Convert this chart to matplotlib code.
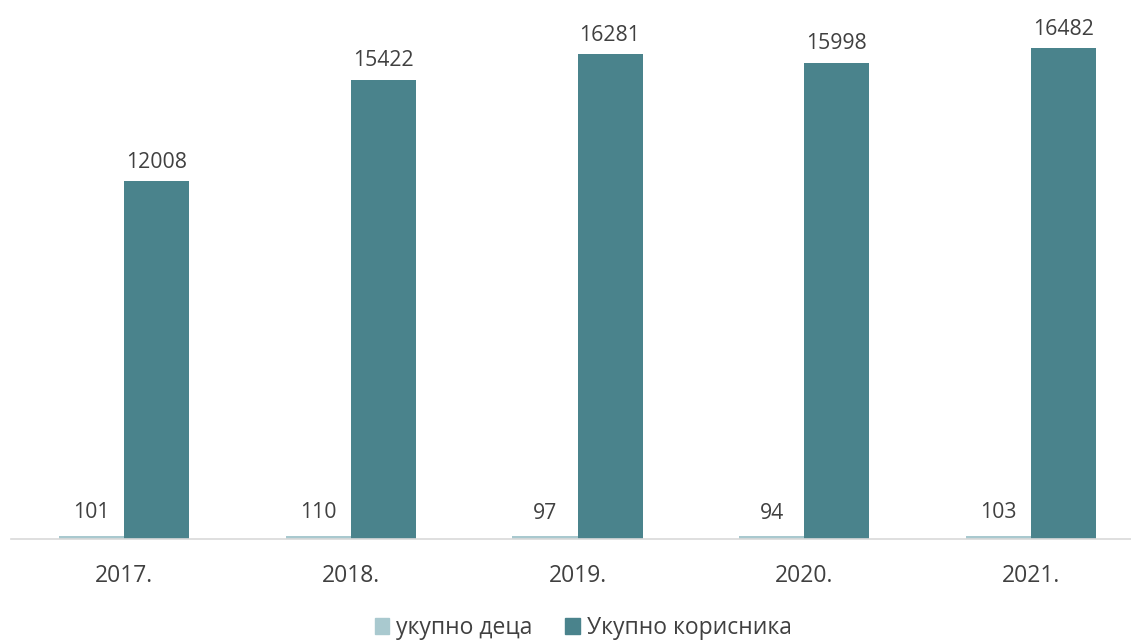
import matplotlib
matplotlib.use("Agg")
import matplotlib.pyplot as plt
from matplotlib.patches import Patch
import numpy as np

plt.rcParams['font.family'] = ['Open Sans', 'DejaVu Sans']

years = ["2017.", "2018.", "2019.", "2020.", "2021."]
children = [101, 110, 97, 94, 103]
users = [12008, 15422, 16281, 15998, 16482]
series_names = ["укупно деца", "Укупно корисника"]

light = "#A9C9CF"
dark = "#4A838C"
text_col = "#404040"

W, H = 1131, 642
fig = plt.figure(figsize=(W / 100, H / 100), dpi=100)
left_px, right_px = 10.6, 1144.4
base_px, top_px = 539, 3
ax = fig.add_axes([left_px / W, (H - base_px) / H, (right_px - left_px) / W, (base_px - top_px) / H])

x = np.arange(len(years))
bw = 0.287
b1 = ax.bar(x - bw / 2, children, bw, color=light, label=series_names[0])
b2 = ax.bar(x + bw / 2, users, bw, color=dark, label=series_names[1])

for rect, v in zip(b1, children):
    ax.annotate(str(v), (rect.get_x() + rect.get_width() / 2, v), xytext=(0, 9),
                textcoords="offset points", ha="center", va="bottom", fontsize=15.3, color=text_col)
for rect, v in zip(b2, users):
    ax.annotate(str(v), (rect.get_x() + rect.get_width() / 2, v), xytext=(0, 6),
                textcoords="offset points", ha="center", va="bottom", fontsize=15.3, color=text_col)

ax.set_xlim(-0.5, 4.5)
ax.set_ylim(0, 18000)
ax.set_yticks([])
ax.set_xticks(x)
ax.set_xticklabels(years, fontsize=16.5, color=text_col)
ax.tick_params(axis='x', length=0, pad=18)
for s in ["top", "right", "left"]:
    ax.spines[s].set_visible(False)
ax.spines["bottom"].set_color("#D9D9D9")
ax.spines["bottom"].set_linewidth(1.2)

handles = [Patch(color=light), Patch(color=dark)]
fig.legend(handles, series_names, loc="center", bbox_to_anchor=(583 / W, 1 - 628 / H),
           ncol=2, frameon=False, fontsize=16.5, handlelength=0.65, handleheight=0.65,
           handletextpad=0.3, columnspacing=1.4, labelcolor=text_col)

fig.savefig("out.png", dpi=100)
